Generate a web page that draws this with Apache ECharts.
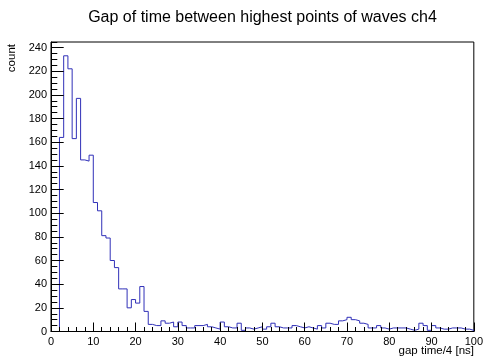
<!DOCTYPE html>
<html>
<head>
<meta charset="utf-8">
<script src="https://cdn.jsdelivr.net/npm/echarts@6/dist/echarts.min.js"></script>
<style>
  html, body { margin: 0; padding: 0; background: #ffffff; }
  #chart { width: 486px; height: 358px; }
</style>
</head>
<body>
<div id="chart"></div>
<script>
// Histogram: gap between the highest points of the waves on channel 4
const titleText = 'Gap of time between highest points of waves ch4';
const xTitle = 'gap time/4 [ns]';
const yTitle = 'count';

// 100 bins of width 1 covering 0..100
const xMin = 0;
const xMax = 100;
const binWidth = 1;
const binCounts = [
  0, 0, 164, 233, 222, 163, 197, 145, 144, 149,
  109, 102, 81, 79, 60, 54, 36, 36, 20, 27,
  24, 38, 17, 6, 5, 5, 9, 7, 8, 4,
  8, 5, 3, 3, 5, 5, 6, 4, 3, 2,
  8, 4, 3, 3, 7, 1, 3, 2, 3, 4,
  2, 4, 7, 4, 3, 3, 3, 5, 4, 3,
  4, 3, 2, 5, 3, 7, 6, 6, 9, 10,
  12, 10, 9, 7, 6, 3, 3, 5, 3, 2,
  3, 3, 3, 3, 2, 1, 2, 7, 5, 1,
  5, 3, 2, 2, 3, 3, 3, 2, 2, 1
];

// Axis divisions
const xMajorStep = 10;
const xMinorSplit = 5;
const yMajorStep = 20;
const yMinorStep = 5;
const yTickLabels = [0, 20, 40, 60, 80, 100, 120, 140, 160, 180, 200, 220, 240];

// Upper edge leaves 5% headroom above the tallest bin
const yMax = Math.max(...binCounts) * 1.05;

// Outline of the histogram: one point per bin low edge, closed at the right edge
const outline = binCounts.map((c, i) => [xMin + i * binWidth, c]);
outline.push([xMax, binCounts[binCounts.length - 1]]);
outline.push([xMax, 0]);

const FONT = 'Liberation Sans, Arial, Helvetica, sans-serif';
const BLACK = '#000000';

const grid = { left: 51, right: 12, top: 42, bottom: 26.5 };
const frameCenterX = grid.left + (486 - grid.left - grid.right) / 2;

const chart = echarts.init(document.getElementById('chart'), null, { renderer: 'canvas' });

chart.setOption({
  animation: false,
  backgroundColor: '#ffffff',
  grid: Object.assign({ show: true, borderColor: BLACK, borderWidth: 1, containLabel: false }, grid),
  xAxis: [{
    type: 'value',
    min: xMin,
    max: xMax,
    interval: xMajorStep,
    z: 5,
    axisLine: { show: true, onZero: false, lineStyle: { color: BLACK, width: 1 } },
    axisTick: { show: true, inside: true, length: 9, lineStyle: { color: BLACK, width: 1 } },
    minorTick: { show: true, splitNumber: xMinorSplit, length: 4.5, lineStyle: { color: BLACK, width: 1 } },
    axisLabel: { show: true, margin: 5, color: BLACK, fontSize: 11, fontFamily: FONT },
    splitLine: { show: false },
    minorSplitLine: { show: false }
  }],
  yAxis: [{
    // major ticks with labels
    type: 'value',
    min: 0,
    max: yMax,
    interval: yMajorStep,
    z: 5,
    axisLine: { show: true, onZero: false, lineStyle: { color: BLACK, width: 1 } },
    axisTick: { show: true, inside: true, length: 12.7, lineStyle: { color: BLACK, width: 1 } },
    axisLabel: {
      show: true, margin: 4, color: BLACK, fontSize: 11, fontFamily: FONT,
      showMaxLabel: false,
      formatter: (v) => (yTickLabels.indexOf(Math.round(v)) >= 0 && Math.abs(v - Math.round(v)) < 1e-6) ? String(Math.round(v)) : ''
    },
    splitLine: { show: false }
  }, {
    // minor ticks
    type: 'value',
    min: 0,
    max: yMax,
    interval: yMinorStep,
    position: 'left',
    offset: 0,
    z: 5,
    axisLine: { show: false },
    axisTick: { show: true, inside: true, length: 6.3, lineStyle: { color: BLACK, width: 1 } },
    axisLabel: { show: false },
    splitLine: { show: false }
  }],
  series: [{
    type: 'line',
    xAxisIndex: 0,
    yAxisIndex: 0,
    step: 'end',
    data: outline,
    showSymbol: false,
    symbol: 'none',
    clip: true,
    lineStyle: { color: '#3030b8', width: 1 },
    z: 2
  }],
  graphic: [{
    type: 'text',
    x: frameCenterX,
    y: 18,
    style: {
      text: titleText, fill: BLACK, font: '16px ' + FONT,
      textAlign: 'center', textVerticalAlign: 'middle', verticalAlign: 'middle', align: 'center'
    }
  }, {
    type: 'text',
    x: 12,
    y: 44,
    rotation: Math.PI / 2,
    style: {
      text: yTitle, fill: BLACK, font: '11.5px ' + FONT,
      textAlign: 'right', align: 'right', verticalAlign: 'middle', textVerticalAlign: 'middle'
    }
  }, {
    type: 'text',
    x: 474,
    y: 351,
    style: {
      text: xTitle, fill: BLACK, font: '11.5px ' + FONT,
      textAlign: 'right', align: 'right', verticalAlign: 'middle', textVerticalAlign: 'middle'
    }
  }]
});
</script>
</body>
</html>
